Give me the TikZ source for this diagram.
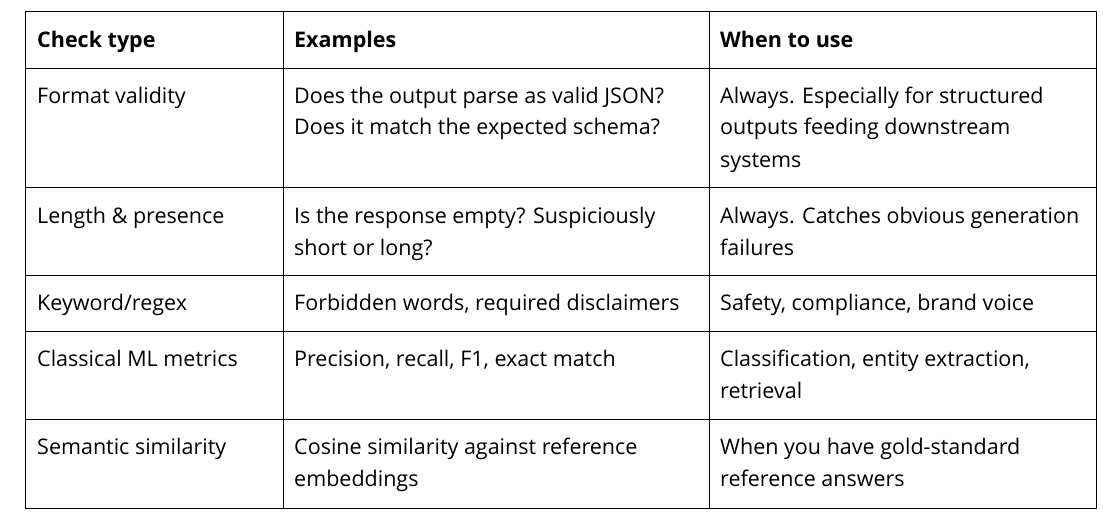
\documentclass[tikz,border=0pt]{standalone}
\usepackage{fontspec}
\setmainfont{Open Sans}
\newcommand\celltext[1]{\begin{tabular}[t]{@{}l@{}}#1\end{tabular}}
\begin{document}
\begin{tikzpicture}[x=1pt,y=-1pt,
  cell/.style={anchor=base west,inner sep=0pt,
    font=\fontsize{21.5}{32}\selectfont},
  head/.style={cell,font=\fontsize{21.5}{32}\selectfont\bfseries}]
  \useasboundingbox (0,0) rectangle (1120,519);
  % grid
  \draw[line width=1pt] (25,12) rectangle (1096,508);
  \foreach \y in {69,187,275,331,419}
    \draw[line width=1pt] (25,\y) -- (1096,\y);
  \foreach \x in {283,709}
    \draw[line width=1pt] (\x,12) -- (\x,508);

  % header
  \node[head] (h1) at (37,48) {Check type};
  \node[head] (h2) at (294,48) {Examples};
  \node[head] (h3) at (720,48) {When to use};

  % rows
  \node[cell] (a1) at (37,103) {Format validity};
  \node[cell] (b1) at (294,103) {\celltext{Does the output parse as valid JSON?\\Does it match the expected schema?}};
  \node[cell] (c1) at (720,103) {\celltext{Always. Especially for structured\\outputs feeding downstream\\systems}};

  \node[cell] (a2) at (37,223) {Length \& presence};
  \node[cell] (b2) at (294,223) {\celltext{Is the response empty? Suspiciously\\short or long?}};
  \node[cell] (c2) at (720,223) {\celltext{Always. Catches obvious generation\\failures}};

  \node[cell] (a3) at (37,310) {Keyword/regex};
  \node[cell] (b3) at (294,310) {Forbidden words, required disclaimers};
  \node[cell] (c3) at (720,310) {Safety, compliance, brand voice};

  \node[cell] (a4) at (37,366) {Classical ML metrics};
  \node[cell] (b4) at (294,366) {Precision, recall, F1, exact match};
  \node[cell] (c4) at (720,366) {\celltext{Classification, entity extraction,\\retrieval}};

  \node[cell] (a5) at (37,454) {Semantic similarity};
  \node[cell] (b5) at (294,454) {\celltext{Cosine similarity against reference\\embeddings}};
  \node[cell] (c5) at (720,454) {\celltext{When you have gold-standard\\reference answers}};
\end{tikzpicture}
\end{document}
